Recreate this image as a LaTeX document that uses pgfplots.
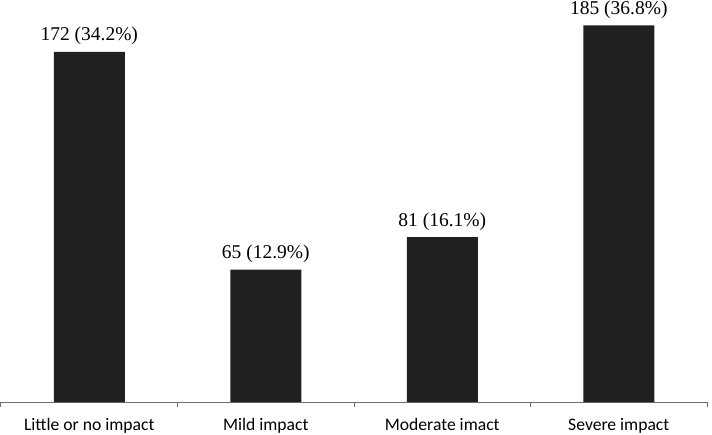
\documentclass[border=0pt]{standalone}
\usepackage{pgfplots}
\pgfplotsset{compat=1.18}
\usepackage{fontspec}
\setmainfont{Liberation Serif}
\newfontfamily\calfont{Carlito}

\definecolor{barink}{HTML}{202020}
\definecolor{axisgray}{HTML}{6E6E6E}

\begin{document}
\begin{tikzpicture}
\begin{axis}[
  at={(0pt,0pt)}, anchor=south west,
  scale only axis, width=706pt, height=402pt,
  xmin=0, xmax=4, ymin=0, ymax=197.5,
  axis x line*=bottom, axis y line=none,
  axis line style={axisgray, line width=1pt},
  ybar, bar width=71pt, clip=false,
  xtick={0.5,1.5,2.5,3.5},
  xticklabels={Little or no impact, Mild impact, Moderate imact, Severe impact},
  major tick length=0pt,
  minor xtick={0,1,2,3,4},
  minor tick length=5pt, tick align=outside,
  tick style={axisgray, line width=1pt},
  xticklabel style={font=\calfont\fontsize{17.6}{20}\selectfont, anchor=base, yshift=-28pt, inner sep=0pt},
  point meta=explicit symbolic,
  nodes near coords,
  every node near coord/.append style={font=\fontsize{19.5}{22}\selectfont, anchor=base, yshift=11pt, inner sep=0pt},
]
\addplot[fill=barink, draw=none] coordinates {
  (0.5,172) [172 (34.2\%)]
  (1.5,65)  [65 (12.9\%)]
  (2.5,81)  [81 (16.1\%)]
  (3.5,185) [185 (36.8\%)]
};
\end{axis}
\pgfresetboundingbox
\path[use as bounding box] (-1pt,-32pt) rectangle (711pt,402pt);
\end{tikzpicture}
\end{document}
